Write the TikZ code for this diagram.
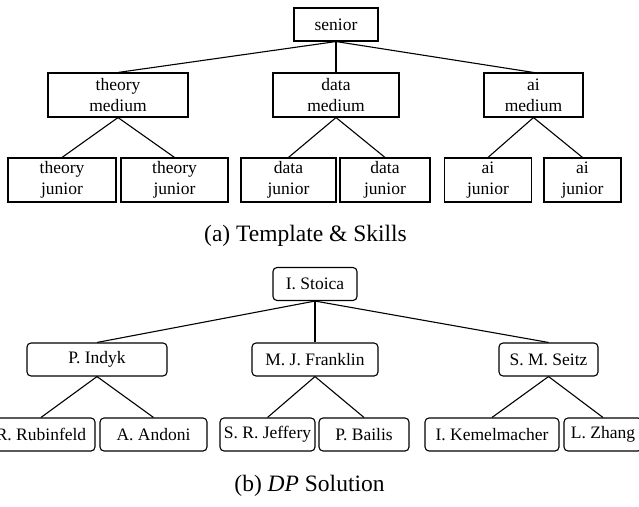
\documentclass[tikz,border=0pt]{standalone}
\usepackage{fontspec}
\setmainfont{Liberation Serif}

\begin{document}
\begin{tikzpicture}[x=1pt, y=-1pt,
    skill/.style={draw, line width=1.1pt, inner sep=0pt, align=center,
      font=\fontsize{17.5}{21}\selectfont, minimum height=44pt},
    person/.style={draw, line width=1.1pt, rounded corners=4pt, inner sep=0pt,
      font=\fontsize{17.5}{21}\selectfont, minimum height=33pt},
    subcap/.style={anchor=base, font=\fontsize{23.5}{28}\selectfont},
    edge/.style={line width=1.1pt}]
    \useasboundingbox (0,0) rectangle (639,506);

    % (a) template tree
    \node[skill, minimum width=84pt, minimum height=33pt] (senior) at (336,24.5) {senior};
    \node[skill, minimum width=140pt] (tmed) at (118,95) {theory\\medium};
    \node[skill, minimum width=126pt] (dmed) at (336,95) {data\\medium};
    \node[skill, minimum width=99pt] (amed) at (533.5,95) {ai\\medium};
    \node[skill, minimum width=108pt] (tjun1) at (62,180) {theory\\junior};
    \node[skill, minimum width=107pt] (tjun2) at (174.5,180) {theory\\junior};
    \node[skill, minimum width=95pt] (djun1) at (288.5,180) {data\\junior};
    \node[skill, minimum width=90pt] (djun2) at (385,180) {data\\junior};
    \node[skill, minimum width=87pt] (ajun1) at (488,180) {ai\\junior};
    \node[skill, minimum width=77pt] (ajun2) at (582.5,180) {ai\\junior};
    \node[subcap] (capa) at (305.5,241) {(a) Template \& Skills};

    % (b) DP solution tree
    \node[person, minimum width=84pt] (stoica) at (315,284) {I. Stoica};
    \node[person, minimum width=140pt] (indyk) at (97,359.5) {P. Indyk};
    \node[person, minimum width=126pt] (franklin) at (315,359.5) {M. J. Franklin};
    \node[person, minimum width=99pt] (seitz) at (548.5,359.5) {S. M. Seitz};
    \node[person, minimum width=108pt] (rubinfeld) at (41,434.5) {R. Rubinfeld};
    \node[person, minimum width=107pt] (andoni) at (153.5,434.5) {A. Andoni};
    \node[person, minimum width=95pt] (jeffery) at (267.5,434.5) {S. R. Jeffery};
    \node[person, minimum width=90pt] (bailis) at (364,434.5) {P. Bailis};
    \node[person, minimum width=134pt] (kemel) at (492,434.5) {I. Kemelmacher};
    \node[person, minimum width=78pt] (zhang) at (603,434.5) {L. Zhang};
    \node[subcap] (capb) at (309.5,491) {(b) \textit{DP} Solution};

    \foreach \p/\c in {senior/tmed, senior/dmed, senior/amed,
                      tmed/tjun1, tmed/tjun2, dmed/djun1, dmed/djun2,
                      amed/ajun1, amed/ajun2,
                      stoica/indyk, stoica/franklin, stoica/seitz,
                      indyk/rubinfeld, indyk/andoni, franklin/jeffery,
                      franklin/bailis, seitz/kemel, seitz/zhang}
      \draw[edge] (\p.south) -- (\c.north);
\end{tikzpicture}
\end{document}
